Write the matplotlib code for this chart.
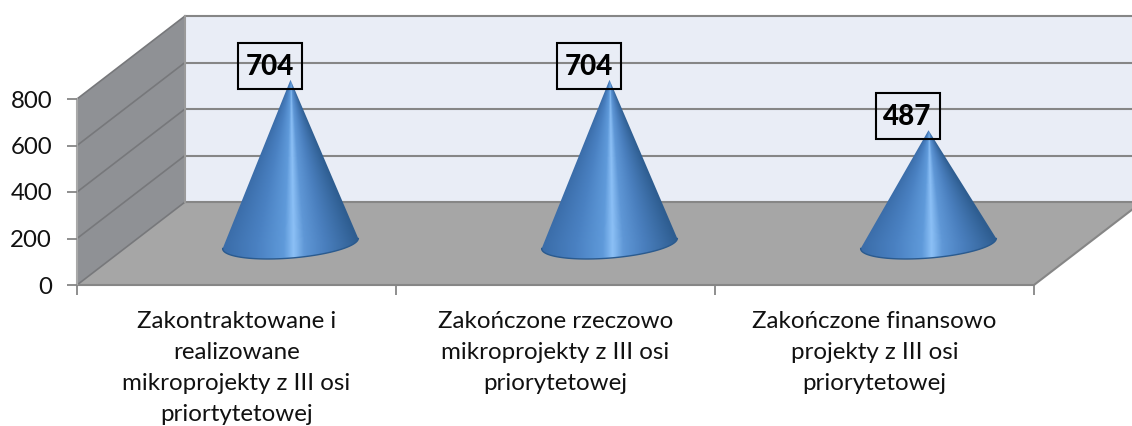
import numpy as np
import matplotlib
matplotlib.use('Agg')
import matplotlib.pyplot as plt
from matplotlib.colors import LinearSegmentedColormap
from matplotlib.patches import Polygon, Rectangle

categories = ['Zakontraktowane i\nrealizowane\nmikroprojekty z III osi\npriortytetowej',
              'Zakończone rzeczowo\nmikroprojekty z III osi\npriorytetowej',
              'Zakończone finansowo\nprojekty z III osi\npriorytetowej']
values = [704, 704, 487]
yticks = [0, 200, 400, 600, 800]

plt.rcParams['font.family'] = ['Lato', 'DejaVu Sans']

W, H = 1132, 426
fig = plt.figure(figsize=(W / 100, H / 100), dpi=100)
ax = fig.add_axes([77 / W, (H - 285) / H, 957 / W, 186 / H])
ax.set_xlim(-0.5, 2.5)
ax.set_ylim(0, 800)

# depth of the fake 3d box, in data units
px_x = 3 / 957
px_y = 800 / 186
dx = 108 * px_x
dy = 83 * px_y
line_c = '#868686'
lw = 1.5

x0, x1 = -0.5, 2.5
right_edge = x0 + (W - 77) * px_x

# back wall, side wall, floor
ax.add_patch(Polygon([(x0 + dx, dy), (x0 + dx, 800 + dy), (right_edge, 800 + dy), (right_edge, dy)],
                     fc='#e9edf6', ec='none', clip_on=False, zorder=0))
ax.add_patch(Polygon([(x0, 0), (x0, 800), (x0 + dx, 800 + dy), (x0 + dx, dy)],
                     fc='#8f9195', ec='none', clip_on=False, zorder=0))
floor_end = (right_edge - x1) / dx
ax.add_patch(Polygon([(x0, 0), (x1, 0), (right_edge, floor_end * dy), (right_edge, dy), (x0 + dx, dy)],
                     fc='#a6a6a6', ec='none', clip_on=False, zorder=0))

# grid lines on both walls
for t in yticks:
    ax.plot([x0, x0 + dx], [t, t + dy], color='#77787b', lw=1.2, clip_on=False, zorder=1)
    ax.plot([x0 + dx, right_edge], [t + dy, t + dy], color=line_c, lw=lw, clip_on=False, zorder=1)
ax.plot([x0, x1, right_edge], [0, 0, floor_end * dy], color=line_c, lw=lw, clip_on=False, zorder=1)
ax.plot([x0, x0], [0, 800], color='#a9a9a9', lw=lw, clip_on=False, zorder=1)
ax.plot([x0 + dx, x0 + dx], [dy, 800 + dy], color='#9a9a9a', lw=lw, clip_on=False, zorder=1)

cone_cmap = LinearSegmentedColormap.from_list('cone', [
    (0.0, '#3a6ca8'), (0.25, '#4a81c2'), (0.45, '#5f9ada'), (0.52, '#8cc0f6'),
    (0.6, '#5f97d6'), (0.75, '#4a7fbe'), (1.0, '#2e5d90')])

half_w = 68 * px_x
half_h = 14.7 * px_y
tilt = np.radians(4.2)

for i, v in enumerate(values):
    cx = i + dx / 2
    cy = dy / 2

    # base ellipse front half, worked out in pixels then put back to data
    t = np.linspace(0, np.pi, 80)
    ex = 68 * np.cos(t) * np.cos(tilt) - 14.7 * np.sin(t) * np.sin(tilt)
    ey = 68 * np.cos(t) * np.sin(tilt) - 14.7 * np.sin(t) * np.cos(tilt)
    base_x = cx + ex * px_x
    base_y = cy + ey * px_y
    outline = np.vstack([[cx, cy + v], np.column_stack([base_x, base_y])])

    gx = np.linspace(cx - half_w * 1.1, cx + half_w * 1.1, 300)
    gy = np.linspace(cy - half_h * 1.4, cy + v, 300)
    mx, my = np.meshgrid(gx, gy)
    frac = np.clip((cy + v - my) / v, 0.004, 1)
    u = (mx - cx) / (half_w * frac)
    im = ax.imshow((np.clip(u, -1, 1) + 1) / 2, cmap=cone_cmap, vmin=0, vmax=1, origin='lower',
                   extent=[gx[0], gx[-1], gy[0], gy[-1]], aspect='auto', zorder=4)
    shape = Polygon(outline, transform=ax.transData, fc='none', ec='none', clip_on=False)
    ax.add_patch(shape)
    im.set_clip_box(fig.bbox)
    im.set_clip_path(shape)
    ax.plot(base_x, base_y, color='#2a5a8e', lw=1.0, zorder=5, clip_on=False)

    # value label: see-through box, grid line shows through it
    ax.annotate(str(v), xy=(cx, cy + v), xytext=(-21, 13), textcoords='offset pixels',
                ha='center', va='center', fontsize=20, fontweight=900, color='black', zorder=6,
                annotation_clip=False)
    ax.add_patch(Rectangle((cx - 53 * px_x, cy + v - 9 * px_y), 64 * px_x, 46 * px_y,
                           fc='none', ec='black', lw=1.5, clip_on=False, zorder=6))

ax.set_xlim(-0.5, 2.5)
ax.set_ylim(0, 800)

for s in ax.spines.values():
    s.set_visible(False)
ax.patch.set_visible(False)

ax.set_yticks(yticks)
ax.tick_params(axis='y', length=7, width=1.3, color=line_c, labelsize=17.3, pad=11, labelcolor='#111111')
ax.set_xticks([-0.5, 0.5, 1.5, 2.5])
ax.set_xticklabels([])
ax.set_xticks(range(3), categories, minor=True)
ax.tick_params(axis='x', which='major', length=7, width=1.3, color=line_c)
ax.tick_params(axis='x', which='minor', length=0, labelsize=17.4, pad=19, labelcolor='#111111')
for lab in ax.get_xticklabels(minor=True):
    lab.set_linespacing(1.58)

plt.savefig('out.png', dpi=100)
